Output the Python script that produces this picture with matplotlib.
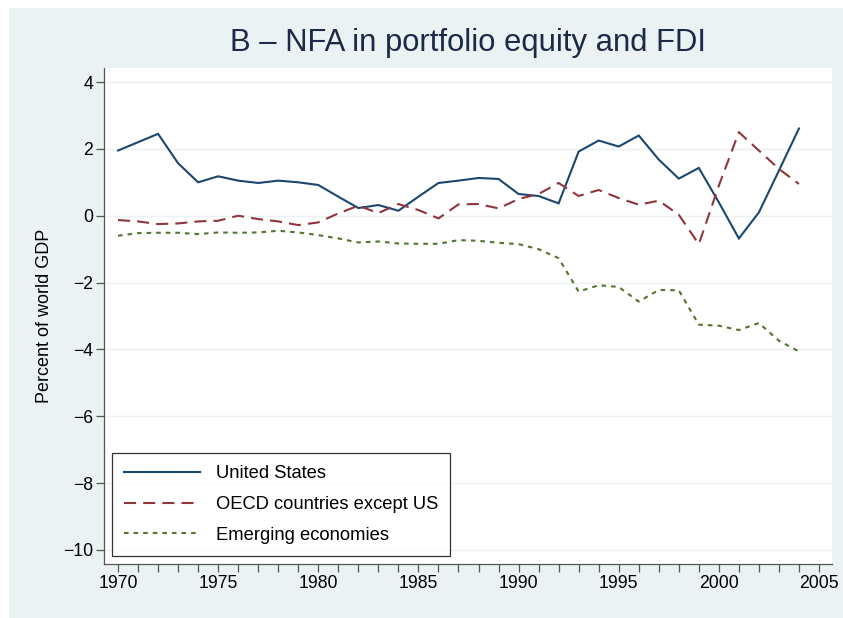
"""Panel B: NFA en portfolio equity y FDI (estilo Stata s2color)."""
import matplotlib
matplotlib.use("Agg")
import matplotlib.pyplot as plt
from matplotlib.patches import Rectangle

plt.rcParams["font.family"] = ["Liberation Sans", "DejaVu Sans"]

years = list(range(1970, 2005))
us = [1.95, 2.2, 2.45, 1.57, 1.0, 1.18, 1.05, 0.98, 1.05, 1.0,
      0.92, 0.57, 0.23, 0.32, 0.15, 0.57, 0.98, 1.05, 1.13, 1.1,
      0.65, 0.59, 0.37, 1.92, 2.25, 2.07, 2.4, 1.68, 1.11, 1.43,
      0.4, -0.68, 0.1, 1.35, 2.61]
oecd = [-0.13, -0.17, -0.25, -0.23, -0.17, -0.15, 0.0, -0.1, -0.17, -0.28,
        -0.2, 0.07, 0.3, 0.08, 0.35, 0.17, -0.08, 0.34, 0.35, 0.22,
        0.5, 0.65, 0.98, 0.59, 0.77, 0.53, 0.33, 0.45, 0.03, -0.85,
        0.9, 2.5, 1.95, 1.4, 0.95]
emerging = [-0.6, -0.52, -0.51, -0.51, -0.55, -0.5, -0.51, -0.5, -0.45, -0.5,
            -0.58, -0.68, -0.8, -0.77, -0.83, -0.84, -0.84, -0.73, -0.75, -0.81,
            -0.85, -1.0, -1.27, -2.27, -2.08, -2.13, -2.57, -2.22, -2.23, -3.26,
            -3.29, -3.42, -3.21, -3.74, -4.06]
SERIES = [("United States", us, "#1a476f", "-"),
          ("OECD countries except US", oecd, "#90353b", (0, (5.8, 3.4))),
          ("Emerging economies", emerging, "#55752f", (0, (2.2, 2.4)))]
yticks = [4, 2, 0, -2, -4, -6, -8, -10]
xticks = list(range(1970, 2006, 5))

W, H = 843, 618
fig = plt.figure(figsize=(W / 100, H / 100), dpi=100)
fig.patch.set_facecolor("white")
fig.patches.append(Rectangle((9 / W, 0), 1, 1 - 8 / H, transform=fig.transFigure,
                             facecolor="#eaf2f3", edgecolor="none", zorder=-10))
ax = fig.add_axes([104 / W, 1 - 564 / H, (832 - 104) / W, (564 - 68) / H])
ax.set_facecolor("white")

for name, vals, c, ls in SERIES:
    ax.plot(years, vals, color=c, lw=1.5, ls=ls, label=name,
            solid_joinstyle="miter", dash_capstyle="butt")

ax.set_xlim(1969.3, 2005.65)
ax.set_ylim(-10.42, 4.42)
ax.set_yticks(yticks)
ax.set_xticks(xticks)
ax.set_xticks(years + [2005], minor=True)
for y in yticks:
    ax.axhline(y, color="#eaf2f3", lw=1, zorder=0)

for s in ["top", "right"]:
    ax.spines[s].set_visible(False)
for s in ["left", "bottom"]:
    ax.spines[s].set_color("#555555")
    ax.spines[s].set_linewidth(0.9)
ax.tick_params(axis="both", which="both", direction="out", length=6,
               width=0.9, color="#555555", labelsize=12.7, pad=2)
ax.tick_params(axis="y", which="minor", length=0)

ax.set_ylabel("Percent of world GDP", fontsize=13, labelpad=7)
fig.text(468 / W, 1 - 43 / H, "B \u2013 NFA in portfolio equity and FDI",
         ha="center", va="center", fontsize=22.3, color="#1c2947")

leg = ax.legend(loc="lower left", bbox_to_anchor=(8 / 728, 8 / 496), fontsize=13.2,
                frameon=True, fancybox=False, handlelength=4.15, handletextpad=0.85,
                labelspacing=0.75, borderpad=0.66, borderaxespad=0)
leg.get_frame().set_edgecolor("black")
leg.get_frame().set_linewidth(0.9)

fig.savefig("out.png", dpi=100, facecolor=fig.get_facecolor())
